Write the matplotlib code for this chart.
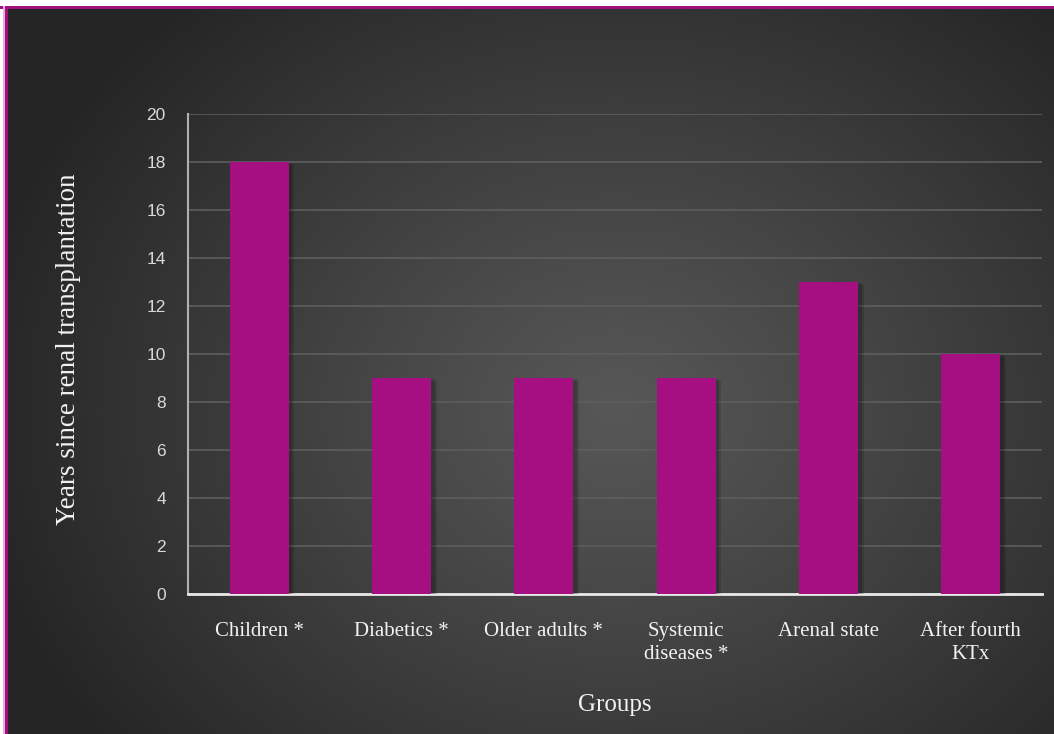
import numpy as np
import matplotlib
matplotlib.use("Agg")
import matplotlib.pyplot as plt
import matplotlib.patheffects as pe
from matplotlib.patches import Rectangle

categories = ["Children *", "Diabetics *", "Older adults *", "Systemic\ndiseases *", "Arenal state", "After fourth\nKTx"]
values = [18, 9, 9, 9, 13, 10]
yticks = [0, 2, 4, 6, 8, 10, 12, 14, 16, 18, 20]

W, H = 1054, 734
fig = plt.figure(figsize=(W / 100, H / 100), dpi=100)
fig.patch.set_facecolor("white")

# background gradient panel
bx0, by1 = 8 / W, 1 - 9 / H
bg = fig.add_axes([bx0, 0, 1 - bx0, by1], zorder=-10)
ny, nx = 300, 430
yy, xx = np.mgrid[0:ny, 0:nx]
cx, cy = nx * 0.58, ny * 0.55
d = np.sqrt(((xx - cx) / (nx * 0.62)) ** 2 + ((yy - cy) / (ny * 0.75)) ** 2)
d = np.clip(d, 0, 1)
lo, hi = 0x25 / 255, 0x57 / 255
val = hi - (hi - lo) * d ** 1.1
img = np.dstack([val, val, val])
bg.imshow(img, aspect="auto", interpolation="bilinear", extent=[0, 1, 0, 1])
bg.set_axis_off()

# magenta frame at top and left
fig.patches.append(Rectangle((0, 1 - 9 / H), 1, 3 / H, transform=fig.transFigure,
                             facecolor="#a0117f", edgecolor="none", zorder=5))
fig.patches.append(Rectangle((4 / W, 0), 4 / W, 1 - 6 / H, transform=fig.transFigure,
                             facecolor="#a0117f", edgecolor="none", zorder=5))
fig.patches.append(Rectangle((3 / W, 0), 1.5 / W, 1 - 6 / H, transform=fig.transFigure,
                             facecolor="#e2b4d6", edgecolor="none", zorder=5))

ax = fig.add_axes([188 / W, 140 / H, (1042 - 188) / W, (594 - 114) / H])
ax.set_facecolor("none")
x = np.arange(len(categories))
bars = ax.bar(x, values, width=0.415, color="#a60f82", zorder=3)
for b in bars:
    b.set_path_effects([
        pe.SimplePatchShadow(offset=(4, -2), shadow_rgbFace="black", alpha=0.12),
        pe.SimplePatchShadow(offset=(2.5, -1), shadow_rgbFace="black", alpha=0.18),
        pe.Normal(),
    ])

ax.set_xlim(-0.5, len(categories) - 0.5)
ax.set_ylim(0, 20)
ax.set_yticks(yticks)
ax.set_yticklabels([str(t) for t in yticks], fontsize=12.5, color="#d9d9d9",
                   fontfamily="Liberation Sans")
ax.set_xticks(x)
ax.set_xticklabels(categories, fontsize=15, color="#f2f2f2",
                   fontfamily="Liberation Serif", linespacing=1.3)
ax.tick_params(axis="y", length=0, pad=16)
ax.tick_params(axis="x", length=0, pad=20)
ax.grid(axis="y", color="#5e5e5e", linewidth=1.2, zorder=0)
ax.set_axisbelow(True)
for s in ["top", "right"]:
    ax.spines[s].set_visible(False)
ax.spines["left"].set_color("#b0b0b0")
ax.spines["left"].set_linewidth(1.5)
ax.spines["bottom"].set_color("#e8e8e8")
ax.spines["bottom"].set_linewidth(2)

fig.text(615 / W, 1 - 705 / H, "Groups", ha="center", va="center", fontsize=18,
         color="#f2f2f2", fontfamily="Liberation Serif")
fig.text(69 / W, 1 - 349 / H, "Years since renal transplantation", ha="center",
         va="center", rotation=90, fontsize=19.5, color="#f2f2f2",
         fontfamily="Liberation Serif")

fig.savefig("out.png", dpi=100)
